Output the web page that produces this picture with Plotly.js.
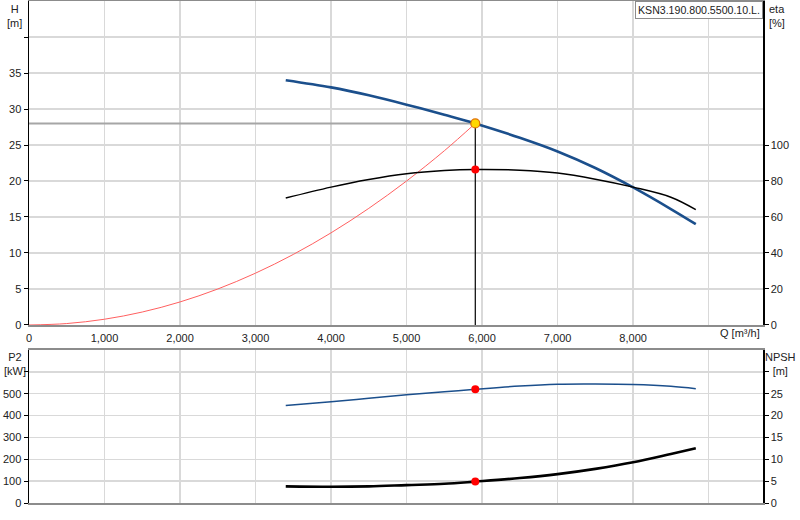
<!DOCTYPE html>
<html>
<head>
<meta charset="utf-8">
<script src="https://cdn.plot.ly/plotly-3.0.1.min.js"></script>
<style>html,body{margin:0;padding:0;background:#fff;}#chart{width:800px;height:520px;}</style>
</head>
<body>
<div id="chart"></div>
<script>
// ---- data ----
const qPump = [3400, 4000, 4500, 5000, 5500, 5910, 6500, 7000, 7500, 8000, 8500, 8830];
const headH = [34.0, 33.0, 31.9, 30.6, 29.2, 28.0, 26.0, 24.1, 21.8, 19.1, 16.1, 14.0];

const qEta = [3400, 4000, 4500, 5000, 5500, 5910, 6500, 7000, 7500, 8000, 8500, 8830];
const etaPct = [70.5, 76.6, 80.8, 84.0, 85.8, 86.4, 86.0, 84.4, 81.0, 76.6, 71.0, 64.1];

const qSys = [0, 500, 1000, 1500, 2000, 2500, 3000, 3500, 4000, 4500, 5000, 5500, 5910];
const headSys = [0, 0.2, 0.8, 1.8, 3.2, 5.0, 7.2, 9.8, 12.8, 16.2, 20.0, 24.2, 28.0];

const qP2 = [3400, 4000, 4500, 5000, 5500, 5910, 6500, 7000, 7500, 8000, 8500, 8830];
const p2kW = [446, 463, 479, 495, 509, 520, 535, 543, 544, 542, 534, 523];

const qNpsh = [3400, 4000, 4500, 5000, 5500, 5910, 6500, 7000, 7500, 8000, 8500, 8830];
const npshM = [3.8, 3.7, 3.8, 4.1, 4.4, 4.9, 5.7, 6.6, 7.8, 9.3, 11.2, 12.5];

const dutyQ = 5910, dutyH = 28.0, dutyEta = 86.4, dutyP2 = 520, dutyNpsh = 4.9;

const xTickVals = [0, 1000, 2000, 3000, 4000, 5000, 6000, 7000, 8000, 9000];
const xTickText = ['0', '1,000', '2,000', '3,000', '4,000', '5,000', '6,000', '7,000', '8,000', ''];
const hTickVals = [0, 5, 10, 15, 20, 25, 30, 35, 40];
const hTickText = ['0', '5', '10', '15', '20', '25', '30', '35', ''];
const etaTickVals = [0, 20, 40, 60, 80, 100];
const p2TickVals = [0, 100, 200, 300, 400, 500, 600];
const p2TickText = ['0', '100', '200', '300', '400', '500', ''];
const npshTickVals = [0, 5, 10, 15, 20, 25, 30];
const npshTickText = ['0', '5', '10', '15', '20', '25', ''];

const modelName = 'KSN3.190.800.5500.10.L.';

// ---- traces ----
const blue = '#1b4f8c';
const traces = [
  {x: [0, dutyQ], y: [dutyH, dutyH], xaxis: 'x', yaxis: 'y', mode: 'lines',
   line: {color: '#a6a6a6', width: 2}, hoverinfo: 'skip'},
  {x: [dutyQ, dutyQ], y: [0, dutyH], xaxis: 'x', yaxis: 'y', mode: 'lines',
   line: {color: '#000', width: 1.2}, hoverinfo: 'skip'},
  {x: qSys, y: headSys, xaxis: 'x', yaxis: 'y', mode: 'lines', line: {color: '#ff6060', width: 1, shape: 'spline'}},
  {x: qEta, y: etaPct, xaxis: 'x', yaxis: 'y2', mode: 'lines', line: {color: '#000', width: 1.5, shape: 'spline'}},
  {x: qPump, y: headH, xaxis: 'x', yaxis: 'y', mode: 'lines', line: {color: blue, width: 2.6, shape: 'spline'}},
  {x: [dutyQ], y: [dutyEta], xaxis: 'x', yaxis: 'y2', mode: 'markers', marker: {color: '#ff0000', size: 8}},
  {x: [dutyQ], y: [dutyH], xaxis: 'x', yaxis: 'y', mode: 'markers',
   marker: {color: '#ffd800', size: 9, line: {color: '#e07000', width: 1.2}}},
  {x: qP2, y: p2kW, xaxis: 'x2', yaxis: 'y3', mode: 'lines', line: {color: blue, width: 1.5, shape: 'spline'}},
  {x: qNpsh, y: npshM, xaxis: 'x2', yaxis: 'y4', mode: 'lines', line: {color: '#000', width: 2.6, shape: 'spline'}},
  {x: [dutyQ], y: [dutyP2], xaxis: 'x2', yaxis: 'y3', mode: 'markers', marker: {color: '#ff0000', size: 8}},
  {x: [dutyQ], y: [dutyNpsh], xaxis: 'x2', yaxis: 'y4', mode: 'markers', marker: {color: '#ff0000', size: 8}}
];

const font = {family: 'Liberation Sans, Arial, sans-serif', size: 11, color: '#222'};
const grid = '#d9d9d9';
const xRange = [0, 9720];

const layout = {
  width: 800, height: 520,
  margin: {l: 29, r: 37, t: 1, b: 17},
  paper_bgcolor: '#fff', plot_bgcolor: '#fff',
  showlegend: false,
  font: font,
  xaxis: {domain: [0, 1], anchor: 'y', range: xRange, tickvals: xTickVals, ticktext: xTickText,
    showgrid: true, gridcolor: grid, gridwidth: 1.5, zeroline: false,
    showline: true, linecolor: '#8c8c8c', linewidth: 2, mirror: true, ticks: '', ticklabelstandoff: 2},
  yaxis: {domain: [0.3546, 1], anchor: 'x', range: [0, 45], tickvals: hTickVals, ticktext: hTickText,
    showgrid: true, gridcolor: grid, gridwidth: 1.5, zeroline: false,
    showline: true, linecolor: '#000', linewidth: 1.5, ticks: 'outside', ticklen: 4, tickcolor: '#000'},
  yaxis2: {overlaying: 'y', side: 'right', anchor: 'x', range: [0, 180], tickvals: etaTickVals,
    showgrid: false, zeroline: false, showline: true, linecolor: '#000', linewidth: 1.5,
    ticks: 'outside', ticklen: 4, tickcolor: '#000'},
  xaxis2: {domain: [0, 1], anchor: 'y3', range: xRange, tickvals: xTickVals, showticklabels: false,
    showgrid: true, gridcolor: grid, gridwidth: 1.5, zeroline: false,
    showline: true, linecolor: '#8c8c8c', linewidth: 2, mirror: true, ticks: ''},
  yaxis3: {domain: [0, 0.3048], anchor: 'x2', range: [0, 700], tickvals: p2TickVals, ticktext: p2TickText,
    showgrid: true, gridcolor: grid, gridwidth: 1.5, zeroline: false,
    showline: true, linecolor: '#000', linewidth: 1.5, ticks: 'outside', ticklen: 4, tickcolor: '#000'},
  yaxis4: {overlaying: 'y3', side: 'right', anchor: 'x2', range: [0, 35], tickvals: npshTickVals, ticktext: npshTickText,
    showgrid: false, zeroline: false, showline: true, linecolor: '#000', linewidth: 1.5,
    ticks: 'outside', ticklen: 4, tickcolor: '#000'},
  annotations: [
    {text: 'H<br>[m]', xref: 'paper', yref: 'paper', x: -0.0195, y: 1.0, xanchor: 'center', yanchor: 'top', showarrow: false, font: font},
    {text: 'eta<br>[%]', xref: 'paper', yref: 'paper', x: 1.005, y: 1.0, xanchor: 'left', yanchor: 'top', align: 'left', showarrow: false, font: font},
    {text: 'P2<br>[kW]', xref: 'paper', yref: 'paper', x: -0.0195, y: 0.3068, xanchor: 'center', yanchor: 'top', showarrow: false, font: font},
    {text: 'NPSH<br>[m]', xref: 'paper', yref: 'paper', x: 1.0235, y: 0.3068, xanchor: 'center', yanchor: 'top', showarrow: false, font: font},
    {text: 'Q [m³/h]', xref: 'paper', yref: 'paper', x: 0.9687, y: 0.3386, xanchor: 'center', yanchor: 'middle', showarrow: false, font: font},
    {text: modelName, xref: 'paper', yref: 'paper', x: 1.0, y: 1.0, xanchor: 'right', yanchor: 'top', showarrow: false,
     bgcolor: '#fff', bordercolor: '#8c8c8c', borderwidth: 1, borderpad: 2,
     font: {family: font.family, size: 10.6, color: '#222'}}
  ]
};

Plotly.newPlot('chart', traces, layout, {displayModeBar: false, staticPlot: true});
</script>
</body>
</html>
